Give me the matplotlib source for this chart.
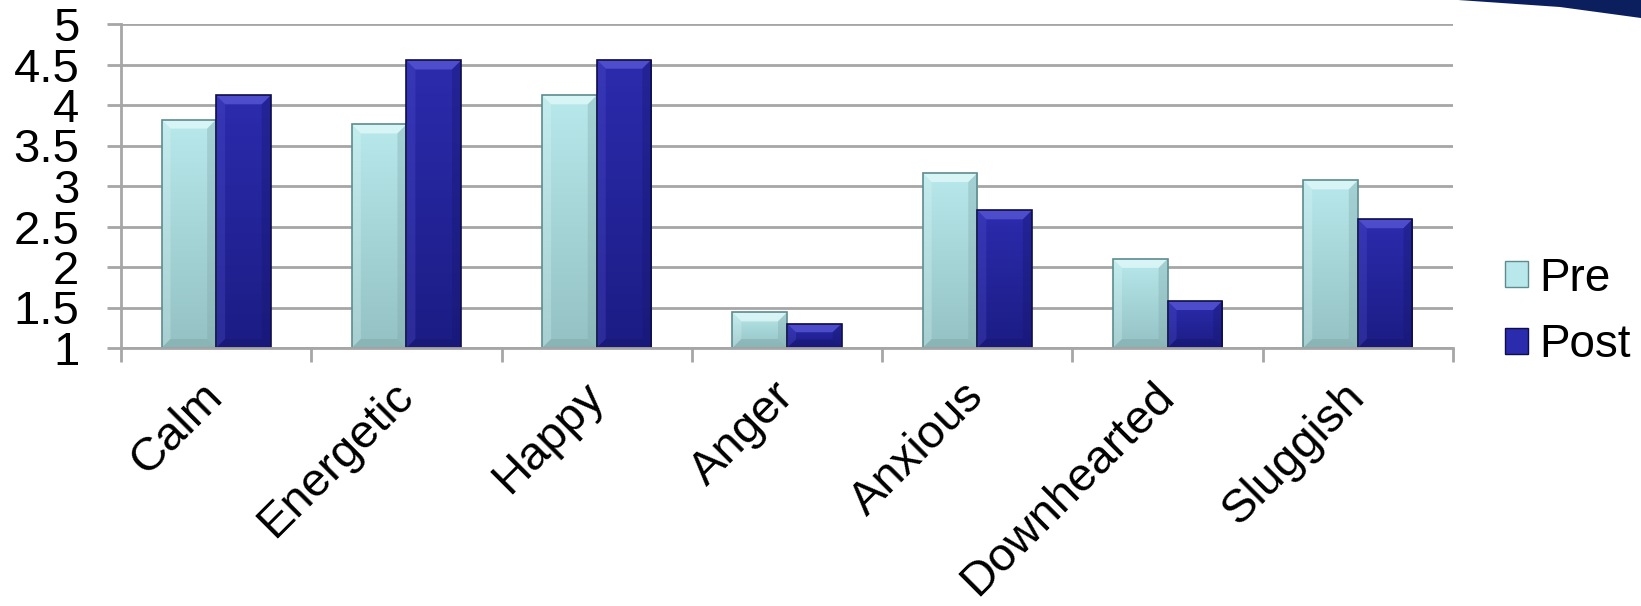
import numpy as np
import matplotlib
matplotlib.use("Agg")
import matplotlib.pyplot as plt
from matplotlib.patches import Polygon, Rectangle
from matplotlib.colors import LinearSegmentedColormap

plt.rcParams['font.family'] = ['Liberation Sans', 'DejaVu Sans']

categories = ["Calm", "Energetic", "Happy", "Anger", "Anxious", "Downhearted", "Sluggish"]
pre_scores = [3.82, 3.76, 4.12, 1.44, 3.16, 2.10, 3.07]
post_scores = [4.12, 4.55, 4.56, 1.30, 2.70, 1.58, 2.59]
series_names = ["Pre", "Post"]
y_ticks = [1, 1.5, 2, 2.5, 3, 3.5, 4, 4.5, 5]
y_tick_labels = ["1", "1.5", "2", "2.5", "3", "3.5", "4", "4.5", "5"]

W, H, DPI = 1641, 606, 100
fig = plt.figure(figsize=(W / DPI, H / DPI), dpi=DPI)
ax = fig.add_axes([121 / W, 1 - 348 / H, (1453 - 121) / W, (348 - 24) / H])

baseline = 1.0
bar_w = 0.287
x = np.arange(len(categories))

styles = {
    "Pre": dict(top=(0.72, 0.91, 0.92), bottom=(0.58, 0.76, 0.77),
                edge="#5E8C8E", hi="#E4FAFB", lo="#7FA6A8"),
    "Post": dict(top=(0.17, 0.17, 0.68), bottom=(0.11, 0.11, 0.52),
                 edge="#0E0E4A", hi="#5A5AD8", lo="#16166E"),
}

grid_col = "#A6A6A6"
ax.set_xlim(-0.5, len(categories) - 0.5)
ax.set_ylim(1, 5)
ax.set_axisbelow(True)
ax.yaxis.grid(True, color=grid_col, linewidth=2)

# pixel-to-data scale for bevel sizes
px_x = (len(categories)) / (1453 - 121)
px_y = 4.0 / (348 - 24)


def draw_bevel_bar(xc, value, st, zo=3):
    left = xc - bar_w / 2
    h = value - baseline
    rect = ax.bar(xc, h, width=bar_w, bottom=baseline, color="none",
                  edgecolor=st["edge"], linewidth=1.2, zorder=zo + 2)[0]
    cmap = LinearSegmentedColormap.from_list("g", [st["bottom"], st["top"]])
    grad = np.linspace(0, 1, 64).reshape(-1, 1)
    im = ax.imshow(grad, cmap=cmap, origin="lower", aspect="auto",
                   extent=(left, left + bar_w, baseline, value),
                   zorder=zo, interpolation="bicubic")
    clip = Rectangle((left, baseline), bar_w, h, transform=ax.transData)
    im.set_clip_path(clip)
    bx = 9 * px_x
    by = min(9 * px_y, h * 0.35)
    r = left + bar_w
    t = value
    b = baseline
    top_poly = [(left, t), (r, t), (r - bx, t - by), (left + bx, t - by)]
    left_poly = [(left, b), (left, t), (left + bx, t - by), (left + bx, b + by)]
    right_poly = [(r, b), (r, t), (r - bx, t - by), (r - bx, b + by)]
    bot_poly = [(left, b), (r, b), (r - bx, b + by), (left + bx, b + by)]
    ax.add_patch(Polygon(top_poly, closed=True, facecolor=st["hi"], alpha=0.75,
                         edgecolor="none", zorder=zo + 1))
    ax.add_patch(Polygon(left_poly, closed=True, facecolor=st["hi"], alpha=0.25,
                         edgecolor="none", zorder=zo + 1))
    ax.add_patch(Polygon(right_poly, closed=True, facecolor=st["lo"], alpha=0.35,
                         edgecolor="none", zorder=zo + 1))
    ax.add_patch(Polygon(bot_poly, closed=True, facecolor=st["lo"], alpha=0.45,
                         edgecolor="none", zorder=zo + 1))
    return rect


for i in range(len(categories)):
    draw_bevel_bar(x[i] - bar_w / 2, pre_scores[i], styles["Pre"])
    draw_bevel_bar(x[i] + bar_w / 2, post_scores[i], styles["Post"])

# axes styling
for s in ["top", "right"]:
    ax.spines[s].set_visible(False)
for s in ["left", "bottom"]:
    ax.spines[s].set_color(grid_col)
    ax.spines[s].set_linewidth(2)
    ax.spines[s].set_zorder(10)

ax.set_yticks(y_ticks)
ax.set_yticklabels(y_tick_labels)
ax.tick_params(axis="y", length=10, width=2, color=grid_col, labelsize=34, pad=20)

ax.set_xticks(x)
ax.set_xticklabels(categories, rotation=45, ha="right", va="center",
                   rotation_mode="anchor")
ax.tick_params(axis="x", which="major", length=0, labelsize=34, pad=30)
ax.set_xticks(np.arange(-0.5, len(categories)), minor=True)
ax.tick_params(axis="x", which="minor", length=10, width=2, color=grid_col)

# legend
handles = [Rectangle((0, 0), 1, 1, facecolor=styles[n]["top"],
                     edgecolor=styles[n]["edge"], linewidth=1) for n in series_names]
fig.legend(handles, series_names, loc="center left",
           bbox_to_anchor=(1482 / W, 1 - 312 / H), frameon=False,
           fontsize=33, handlelength=0.5, handleheight=0.5,
           handletextpad=0.25, labelspacing=0.5, borderpad=0)

# corner swoosh
fig.patches.append(Polygon([(1458 / W, 1.0), (1.0, 1.0), (1.0, 1 - 18 / H),
                            (1560 / W, 1 - 7 / H)], closed=True,
                           transform=fig.transFigure, facecolor="#0B1F5E",
                           edgecolor="none", zorder=0))

fig.savefig("out.png", dpi=DPI)
